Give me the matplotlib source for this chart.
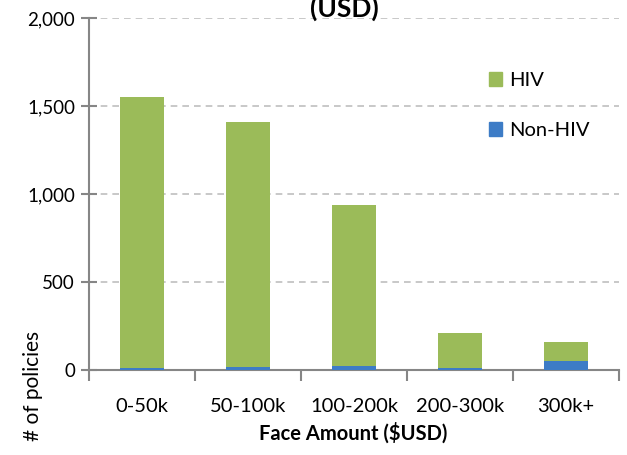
import numpy as np
import matplotlib
matplotlib.use('Agg')
import matplotlib.pyplot as plt
from matplotlib.patches import Patch

plt.rcParams['font.family'] = ['Lato', 'DejaVu Sans']

# policy counts by face amount band
bands = ['0-50k', '50-100k', '100-200k', '200-300k', '300k+']
non_hiv = [12, 18, 25, 12, 51]
hiv = [1539, 1391, 912, 198, 108]

green = '#9bbb59'
blue = '#3d7cc6'
axis_grey = '#868686'

fig = plt.figure(figsize=(6.27, 4.55), dpi=100)
ax = fig.add_axes([89/627, 1 - 370/455, 530/627, 352/455])

x = np.arange(len(bands))
w = 0.41
ax.bar(x, non_hiv, w, color=blue, zorder=3)
ax.bar(x, hiv, w, bottom=non_hiv, color=green, zorder=3)

ax.set_xlim(-0.5, len(bands) - 0.5)
ax.set_ylim(0, 2000)
ax.set_yticks(np.arange(0, 2001, 500))
ax.set_yticklabels(['{:,}'.format(v) for v in range(0, 2001, 500)])
ax.yaxis.grid(True, linestyle=(0, (4, 3)), color='#bfbfbf', linewidth=1.2, zorder=0)

ax.set_xticks(x)
ax.set_xticklabels(bands)
ax.set_xticks(np.arange(-0.5, len(bands)), minor=True)
ax.tick_params(axis='x', which='major', length=0, pad=20, labelsize=14.5)
ax.tick_params(axis='x', which='minor', length=8, width=1.5, color=axis_grey, direction='out')
ax.tick_params(axis='y', length=12, width=1.5, color=axis_grey, direction='inout', labelsize=13.5, pad=4)

for s in ['top', 'right']:
    ax.spines[s].set_visible(False)
for s in ['left', 'bottom']:
    ax.spines[s].set_color(axis_grey)
    ax.spines[s].set_linewidth(1.5)

fig.text(344/627, 1 - 17/455, '(USD)', ha='center', va='baseline',
         fontsize=19, fontweight='bold')
fig.text(353/627, 1 - 433/455, 'Face Amount ($USD)', ha='center', va='center',
         fontsize=14.5, fontweight='bold')
fig.text(33/627, 1 - 386/455, '# of policies', ha='center', va='center',
         rotation=90, fontsize=15)

handles = [Patch(color=green), Patch(color=blue)]
ax.legend(handles, ['HIV', 'Non-HIV'], frameon=False, loc='upper left',
          bbox_to_anchor=((489 - 89)/530, (370 - 72)/352), fontsize=14.5,
          handlelength=0.65, handleheight=0.65, handletextpad=0.35,
          labelspacing=1.65, borderpad=0, borderaxespad=0)

fig.savefig('out.png', dpi=100)
